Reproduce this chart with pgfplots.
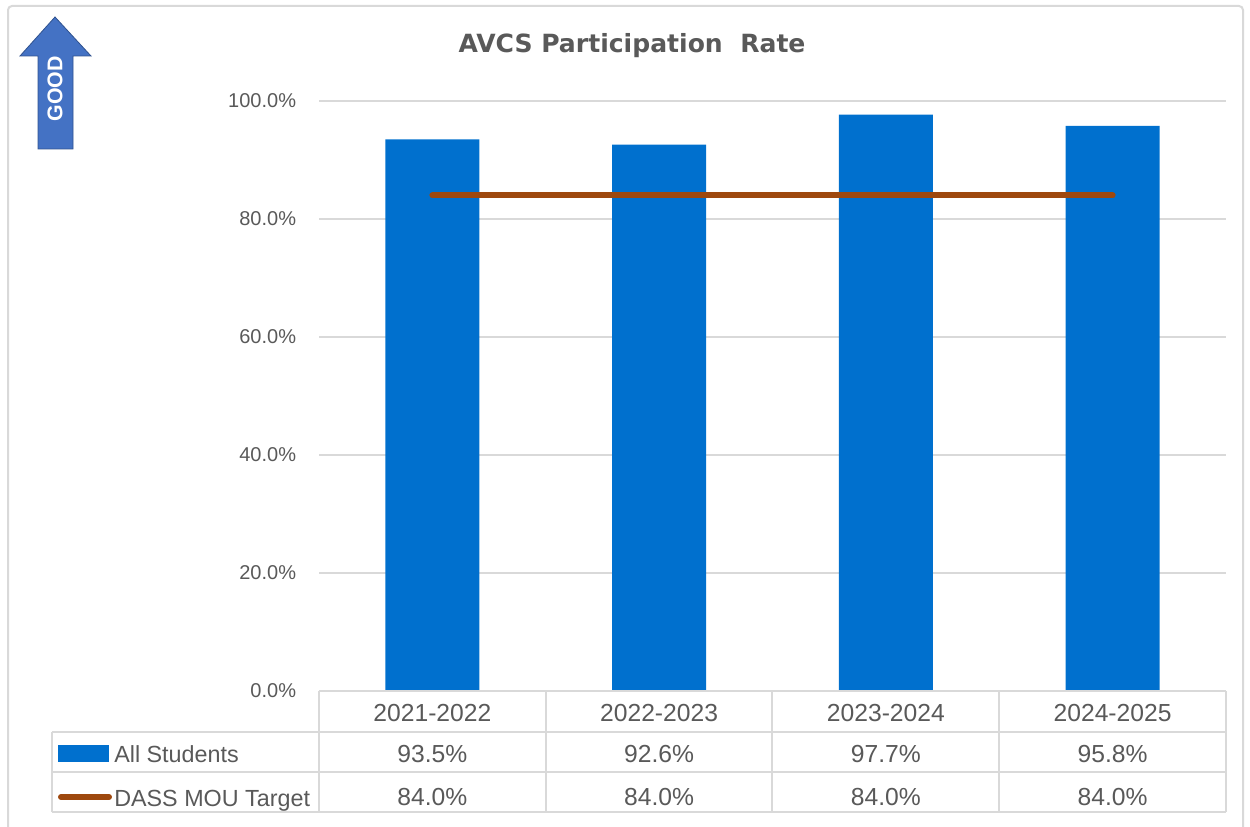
\documentclass[border=0pt]{standalone}
\usepackage{pgfplots}
\pgfplotsset{compat=1.18}
\usepackage{fontspec}
\setmainfont{Liberation Sans}
\newfontfamily\titlefont{DejaVu Sans}
\definecolor{barblue}{RGB}{0,112,206}
\definecolor{linebrown}{RGB}{158,72,14}
\definecolor{gridgray}{RGB}{217,217,217}
\definecolor{txtgray}{RGB}{89,89,89}
\definecolor{arrowblue}{RGB}{68,114,196}
\definecolor{arrowedge}{RGB}{47,82,143}
\begin{document}
\begin{tikzpicture}[x=0.75pt,y=0.75pt]
% outer frame
\begin{scope}
\clip (0,0) rectangle (1250,826);
\draw[gridgray, line width=1.5pt, rounded corners=3pt] (8,-10) rectangle (1243,820);
\end{scope}
% GOOD arrow
\draw[fill=arrowblue, draw=arrowedge, line width=0.6pt]
  (55,809) -- (91,770) -- (73,770) -- (73,677) -- (38,677) -- (38,770) -- (20,770) -- cycle;
\node[rotate=90, text=white, font=\bfseries\fontsize{16}{19}\selectfont] at (55,737) {GOOD};
% title
\node[text=txtgray, font=\titlefont\bfseries\fontsize{18.8}{22}\selectfont] at (632,780) {AVCS Participation\ \ Rate};
\begin{axis}[
  at={(239.25pt,101.25pt)}, anchor=south west,
  scale only axis, width=680.25pt, height=442.5pt,
  xmin=-0.5, xmax=3.5, ymin=0, ymax=100,
  axis line style={draw=none},
  xtick=\empty, ytick={0,20,40,60,80,100},
  ymajorgrids, major grid style={gridgray, line width=1.5pt},
  major tick length=0pt,
  /pgf/number format/assume math mode=true,
  yticklabel={\pgfmathprintnumber[fixed,fixed zerofill,precision=1]{\tick}\%},
  yticklabel style={font=\fontsize{15}{18}\selectfont, text=txtgray, anchor=east, inner sep=0pt, xshift=-17pt},
  clip=false,
]
\addplot[ybar, bar width=70.5pt, fill=barblue, draw=none] coordinates {(0,93.5) (1,92.6) (2,97.7) (3,95.8)};
\addplot[linebrown, line width=4.5pt, line cap=round] coordinates {(0,84) (1,84) (2,84) (3,84)};
\end{axis}
% data table
\begin{scope}[gridgray, line width=1.5pt]
\draw (319,135) -- (1226,135);
\draw (52,94) -- (1226,94);
\draw (52,54) -- (1226,54);
\draw (52,14) -- (1226,14);
\foreach \xx in {319,546,772,999,1226} \draw (\xx,135) -- (\xx,14);
\draw (52,94) -- (52,14);
\end{scope}
\begin{scope}[every node/.style={anchor=base, inner sep=0pt, text=txtgray, font=\fontsize{18.5}{22}\selectfont}]
\node at (432.4,105) {2021-2022};
\node at (659.1,105) {2022-2023};
\node at (885.9,105) {2023-2024};
\node at (1112.6,105) {2024-2025};
\node at (432.4,64) {93.5\%};
\node at (659.1,64) {92.6\%};
\node at (885.9,64) {97.7\%};
\node at (1112.6,64) {95.8\%};
\node at (432.4,21) {84.0\%};
\node at (659.1,21) {84.0\%};
\node at (885.9,21) {84.0\%};
\node at (1112.6,21) {84.0\%};
\end{scope}
% legend keys
\fill[barblue] (58,64) rectangle (109,81);
\draw[linebrown, line width=4.5pt, line cap=round] (61,29) -- (109,29);
\node[anchor=base west, inner sep=0pt, text=txtgray, font=\fontsize{17.5}{21}\selectfont] at (114,64) {All Students};
\node[anchor=base west, inner sep=0pt, text=txtgray, font=\fontsize{17.5}{21}\selectfont] at (114,20) {DASS MOU Target};
\pgfresetboundingbox
\useasboundingbox (0,0) rectangle (1250,826);
\end{tikzpicture}
\end{document}
